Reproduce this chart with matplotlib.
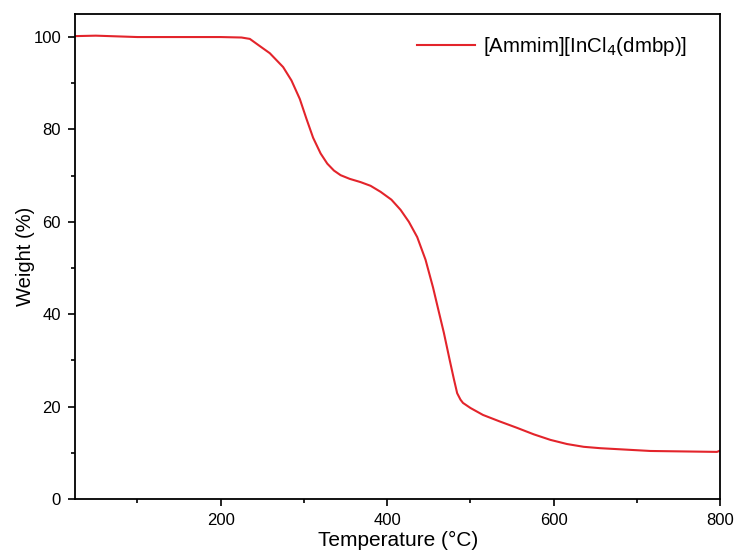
import matplotlib.pyplot as plt
from matplotlib.ticker import MultipleLocator

plt.rcParams['font.family'] = ['Liberation Sans', 'DejaVu Sans']

# TGA curve
temp = [25, 50, 100, 150, 200, 225, 235, 245, 259, 275, 285, 295, 303, 311,
        320, 328, 336, 344, 355, 368, 380, 392, 405, 416, 426, 436, 446,
        455, 462, 468, 475, 480, 484, 488, 491, 500, 515, 535, 556, 576,
        596, 616, 636, 656, 676, 696, 716, 736, 756, 776, 796, 800]
weight = [100.2, 100.3, 100.0, 100.0, 100.0, 99.9, 99.6, 98.3, 96.5, 93.5,
          90.6, 86.6, 82.3, 78.2, 74.8, 72.6, 71.1, 70.1, 69.3, 68.6, 67.8,
          66.5, 64.8, 62.6, 60.0, 56.7, 51.8, 45.8, 40.5, 36.0, 30.1, 26.0,
          22.9, 21.5, 20.8, 19.7, 18.2, 16.8, 15.4, 14.0, 12.8, 11.9, 11.3,
          11.0, 10.8, 10.6, 10.4, 10.35, 10.3, 10.25, 10.2, 10.5]

series_label = '[Ammim][InCl$_4$(dmbp)]'

fig = plt.figure(figsize=(7.35, 5.58), dpi=100)
ax = fig.add_axes([0.102, 0.1057, 0.878, 0.8693])

ax.plot(temp, weight, color='#e3242b', lw=1.5, label=series_label)

ax.set_xlim(25, 800)
ax.set_ylim(0, 105)
ax.xaxis.set_major_locator(MultipleLocator(200))
ax.xaxis.set_minor_locator(MultipleLocator(100))
ax.yaxis.set_major_locator(MultipleLocator(20))
ax.yaxis.set_minor_locator(MultipleLocator(10))
ax.tick_params(which='both', direction='out', width=1.2, labelsize=12, top=False, right=False)
ax.tick_params(which='major', length=5, pad=5)
ax.tick_params(which='minor', length=3)
for s in ax.spines.values():
    s.set_linewidth(1.3)

ax.set_xlabel('Temperature (°C)', fontsize=15, labelpad=2)
ax.set_ylabel('Weight (%)', fontsize=14.5, labelpad=-1)

ax.legend(loc='upper right', frameon=False, fontsize=14.8, handlelength=2.8,
          handletextpad=0.4, bbox_to_anchor=(0.977, 0.995))

fig.savefig('out.png', dpi=100)
